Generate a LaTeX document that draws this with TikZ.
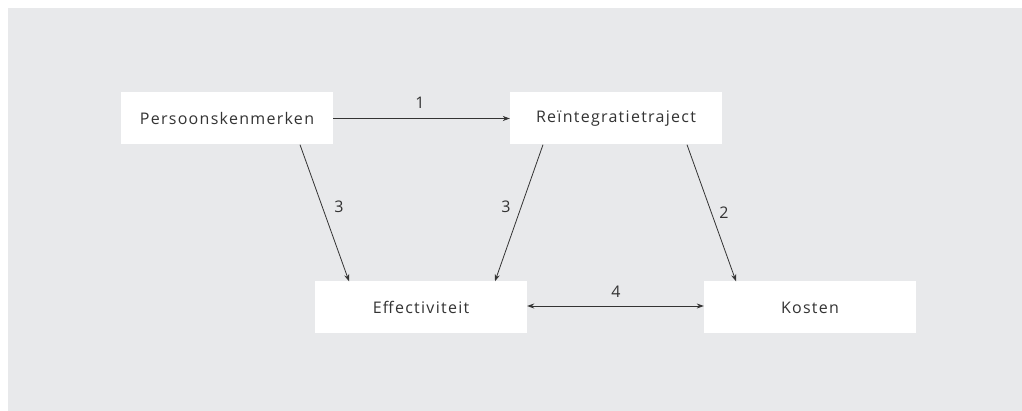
\documentclass[tikz,border=0pt]{standalone}
\usepackage{fontspec}
\setmainfont[LetterSpace=8]{Open Sans}
\usetikzlibrary{arrows.meta}
\definecolor{panelgrey}{HTML}{E8E9EB}
\definecolor{ink}{HTML}{333333}
\begin{document}
\begin{tikzpicture}[x=1pt,y=-1pt,
  box/.style={fill=white, minimum width=212pt, minimum height=52pt, inner sep=0pt, text=ink, font=\fontsize{16}{19}\selectfont},
  lbl/.style={text=ink, inner sep=0pt, font=\fontsize{16}{19}\selectfont},
  conn/.style={draw=ink, line width=0.8pt, -{Stealth[length=7pt,width=5pt]}},
  dconn/.style={draw=ink, line width=0.8pt, {Stealth[length=7pt,width=5pt]}-{Stealth[length=7pt,width=5pt]}}]
\useasboundingbox (0,0) rectangle (1022,411);
\fill[white] (0,0) rectangle (1022,411);
\fill[panelgrey] (8,8) rectangle (1022,411);

\node[box] (P) at (227,118.5) {Persoonskenmerken};
\node[box] (R) at (616,118.5) {Reïntegratietraject};
\node[box] (E) at (421,307.5) {Effectiviteit};
\node[box] (K) at (810,307.5) {Kosten};

\draw[conn] (P.east) -- (R.west);
\draw[conn] ([xshift=73pt]P.south) -- ([xshift=-72pt]E.north);
\draw[conn] ([xshift=-73pt]R.south) -- ([xshift=74pt]E.north);
\draw[conn] ([xshift=71pt]R.south) -- ([xshift=-74pt]K.north);
\draw[dconn] ([yshift=1.5pt]E.east) -- ([yshift=1.5pt]K.west);

\node[lbl] (l1) at (420,103) {1};
\node[lbl] (l3a) at (339,207) {3};
\node[lbl] (l3b) at (506,207) {3};
\node[lbl] (l2) at (724,213) {2};
\node[lbl] (l4) at (616,292) {4};
\end{tikzpicture}
\end{document}
